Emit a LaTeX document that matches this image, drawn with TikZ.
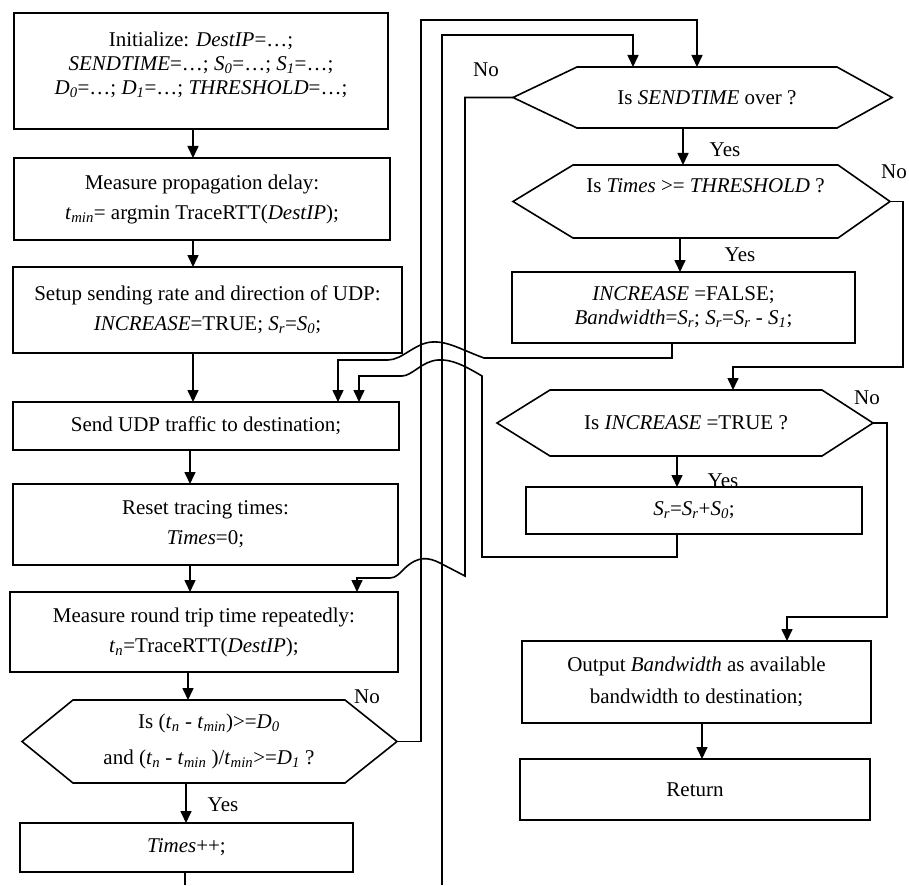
\documentclass[tikz,border=0pt]{standalone}
\usepackage{fontspec}
\setmainfont{Liberation Serif}
\usetikzlibrary{arrows.meta}
\newcommand{\sbs}[1]{\textsubscript{\textit{#1}}}
\newcommand{\hexa}[3]{%
  \draw[hexline] (#1.north west) -- (#1.north east) -- ([xshift=#3pt]#1.east) -- (#1.south east) -- (#1.south west) -- ([xshift=-#2pt]#1.west) -- cycle;
  \coordinate (#1R) at ([xshift=#3pt]#1.east);
  \coordinate (#1L) at ([xshift=-#2pt]#1.west);}
\begin{document}
\begin{tikzpicture}[x=1pt,y=-1pt,
  box/.style={draw, line width=1.6pt, inner sep=0pt, outer sep=0pt, align=center},
  hexn/.style={inner sep=0pt, outer sep=0pt, align=center},
  hexline/.style={line width=1.6pt, line join=miter},
  arr/.style={line width=1.6pt, -{Triangle[length=12pt,width=11pt]}},
  ln/.style={line width=1.6pt},
  lbl/.style={inner sep=0pt},
  font=\fontsize{21}{24}\selectfont]
\useasboundingbox (0,0) rectangle (909,885);

% ---------- left column ----------
\node[box, minimum width=374pt, minimum height=116pt] (b1) at (201,71)
  {Initialize: \textit{DestIP}=…;\\
   \textit{SENDTIME}=…; \textit{S}\sbs{0}=…; \textit{S}\sbs{1}=…;\\
   \textit{D}\sbs{0}=…; \textit{D}\sbs{1}=…; \textit{THRESHOLD}=…;\\[-8pt]};
\node[box, minimum width=376pt, minimum height=82pt] (b2) at (202,199)
  {Measure propagation delay:\\[6pt]
   \textit{t}\sbs{min}= argmin TraceRTT(\textit{DestIP});};
\node[box, minimum width=389pt, minimum height=86pt] (b3) at (207.5,310)
  {Setup sending rate and direction of UDP:\\[6pt]
   \textit{INCREASE}=TRUE; \textit{S}\sbs{r}=\textit{S}\sbs{0};};
\node[box, minimum width=386pt, minimum height=48pt] (b4) at (206,426)
  {Send UDP traffic to destination;};
\node[box, minimum width=385pt, minimum height=81pt] (b5) at (205.5,524.5)
  {Reset tracing times:\\[6pt]\textit{Times}=0;};
\node[box, minimum width=388pt, minimum height=80pt] (b6) at (204,632)
  {Measure round trip time repeatedly:\\[6pt]
   \textit{t}\sbs{n}=TraceRTT(\textit{DestIP});};
\node[hexn, minimum width=272pt, minimum height=83pt] (h1) at (209,741.5)
  {Is (\textit{t}\sbs{n} - \textit{t}\sbs{min})>=\textit{D}\sbs{0}\\[12pt]
   and (\textit{t}\sbs{n} - \textit{t}\sbs{min} )/\textit{t}\sbs{min}>=\textit{D}\sbs{1} ?};
\hexa{h1}{51}{52}
\node[box, minimum width=333pt, minimum height=49pt] (tpp) at (186.5,847.5)
  {\textit{Times}++;};

% ---------- right column ----------
\node[hexn, minimum width=260pt, minimum height=61pt] (h2) at (707,97.5)
  {Is \textit{SENDTIME} over ?};
\hexa{h2}{64}{55}
\node[hexn, minimum width=265pt, minimum height=73pt] (h3) at (705.5,201.5)
  {Is \textit{Times} >= \textit{THRESHOLD} ?\\[8pt]};
\hexa{h3}{60}{52}
\node[box, minimum width=343pt, minimum height=71pt] (r3) at (683.5,307.5)
  {\textit{INCREASE} =FALSE;\\
   \textit{Bandwidth}=\textit{S}\sbs{r}; \textit{S}\sbs{r}=\textit{S}\sbs{r} - \textit{S}\sbs{1};};
\node[hexn, minimum width=272pt, minimum height=66pt] (h4) at (686,423)
  {Is \textit{INCREASE} =TRUE ?};
\hexa{h4}{53}{51}
\node[box, minimum width=336pt, minimum height=47pt] (r5) at (694,510.5)
  {\textit{S}\sbs{r}=\textit{S}\sbs{r}+\textit{S}\sbs{0};};
\node[box, minimum width=349pt, minimum height=82pt] (out) at (696.5,682)
  {Output \textit{Bandwidth} as available\\[8pt]bandwidth to destination;};
\node[box, minimum width=350pt, minimum height=61pt] (ret) at (695,789.5)
  {Return};

% ---------- labels ----------
\node[lbl] (lno1) at (367,697) {No};
\node[lbl] (lyes1) at (223,805) {Yes};
\node[lbl] (lno2) at (486,70) {No};
\node[lbl] (lyes2) at (725,150) {Yes};
\node[lbl, anchor=east] (lno3) at (907,172) {No};
\node[lbl] (lyes3) at (740,255) {Yes};
\node[lbl] (lno4) at (867,398) {No};
\node[lbl] (lyes4) at (723,481) {Yes};

% ---------- straight arrows ----------
\coordinate (xa) at (193,0);
\coordinate (xb) at (190,0);
\coordinate (xc) at (188,0);
\coordinate (xd) at (186,0);
\draw[arr] (b1.south -| xa) -- (b2.north -| xa);
\draw[arr] (b2.south -| xa) -- (b3.north -| xa);
\draw[arr] (b3.south -| xa) -- (b4.north -| xa);
\draw[arr] (b4.south -| xb) -- (b5.north -| xb);
\draw[arr] (b5.south -| xb) -- (b6.north -| xb);
\draw[arr] (b6.south -| xc) -- (h1.north -| xc);
\draw[arr] (h1.south -| xd) -- (tpp.north -| xd);
\coordinate (tend) at (185,885);
\draw[ln] (tpp.south -| tend) -- (tend);

\coordinate (ra) at (683,0);
\coordinate (rb) at (680,0);
\coordinate (rc) at (677,0);
\coordinate (rd) at (702,0);
\draw[arr] (h2.south -| ra) -- (h3.north -| ra);
\draw[arr] (h3.south -| rb) -- (r3.north -| rb);
\draw[arr] (h4.south -| rc) -- (r5.north -| rc);
\draw[arr] (out.south -| rd) -- (ret.north -| rd);

% ---------- loops ----------
% hex1 No -> hex2 (outer line)
\coordinate (o1) at (421,20);
\coordinate (o2) at (697,20);
\draw[arr] (h1R) -| (o1) -- (o2) -- (o2 |- h2.north);
% from Times++ (off page) -> hex2 (middle line)
\coordinate (m0) at (442,885);
\coordinate (m1) at (442,35);
\coordinate (m2) at (633,35);
\draw[arr] (m0) -- (m1) -- (m2) -- (m2 |- h2.north);
% hex2 No -> measure RTT (inner line, hopping over)
\coordinate (i1) at (465,576);
\coordinate (i2) at (357,578);
\draw[arr] (h2L) -| (i1) -- (440,563) .. controls (428,557) and (418,556) .. (405,568)
  .. controls (400,573) and (396,578) .. (390,578) -- (i2) -- (i2 |- b6.north);
% INCREASE=FALSE box -> Send UDP
\coordinate (p1) at (672,358);
\coordinate (p2) at (338,360);
\draw[arr] (r3.south -| p1) -- (p1) -- (484,358)
  .. controls (462,350) and (448,341) .. (432,342)
  .. controls (415,343) and (402,360) .. (388,360) -- (p2) -- (p2 |- b4.north);
% Sr=Sr+S0 box -> Send UDP
\coordinate (q1) at (677,557);
\coordinate (q2) at (482,557);
\coordinate (q3) at (359,376);
\draw[arr] (r5.south -| q1) -- (q1) -- (q2) -- (482,376)
  .. controls (465,366) and (452,359) .. (438,360)
  .. controls (422,361) and (412,376) .. (402,376) -- (q3) -- (q3 |- b4.north);
% hex3 No -> hex4
\coordinate (n1) at (903,367);
\coordinate (n2) at (733,367);
\draw[arr] (h3R) -| (n1) -- (n2) -- (n2 |- h4.north);
% hex4 No -> output
\coordinate (k1) at (887,617);
\coordinate (k2) at (787,617);
\draw[arr] (h4R) -| (k1) -- (k2) -- (k2 |- out.north);
\end{tikzpicture}
\end{document}
